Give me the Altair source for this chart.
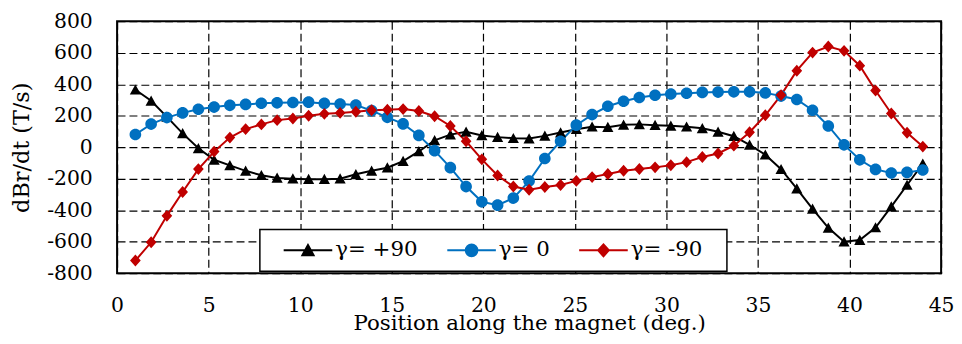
import altair as alt
import pandas as pd

# ---------------- data ----------------
positions = [1.00, 1.86, 2.72, 3.58, 4.44, 5.30, 6.16, 7.02, 7.88, 8.74,
             9.60, 10.46, 11.32, 12.18, 13.04, 13.90, 14.76, 15.62, 16.48, 17.34,
             18.20, 19.06, 19.92, 20.78, 21.64, 22.50, 23.36, 24.22, 25.08, 25.94,
             26.80, 27.66, 28.52, 29.38, 30.24, 31.10, 31.96, 32.82, 33.68, 34.54,
             35.40, 36.26, 37.12, 37.98, 38.84, 39.70, 40.56, 41.42, 42.28, 43.14,
             44.00]

gamma_p90 = [365, 295, 193, 88, -7, -80, -115, -150, -178, -195,
             -200, -203, -203, -200, -172, -150, -130, -88, -27, 43,
             80, 98, 75, 64, 57, 55, 72, 93, 114, 130,
             127, 142, 145, 140, 136, 130, 120, 98, 70, 15,
             -48, -140, -263, -392, -512, -600, -590, -510, -378, -240,
             -105]

gamma_0 = [81, 147, 188, 218, 241, 255, 266, 272, 279, 282,
           284, 286, 278, 274, 268, 232, 190, 148, 75, -22,
           -130, -250, -347, -368, -323, -215, -72, 38, 140, 207,
           260, 292, 316, 330, 338, 343, 348, 350, 352, 352,
           345, 325, 303, 235, 135, 15, -80, -141, -164, -160,
           -145]

gamma_m90 = [-720, -604, -436, -285, -139, -28, 61, 115, 145, 172,
             182, 200, 212, 218, 225, 235, 238, 242, 230, 197,
             135, 38, -77, -180, -250, -270, -253, -240, -214, -190,
             -170, -150, -138, -128, -115, -95, -62, -40, 10, 95,
             203, 331, 486, 601, 640, 612, 518, 360, 214, 92,
             4]

series_names = ["γ= +90", "γ= 0", "γ= -90"]
series_colors = ["#000000", "#0070C0", "#C00000"]

x_ticks = [0, 5, 10, 15, 20, 25, 30, 35, 40, 45]
y_ticks = [-800, -600, -400, -200, 0, 200, 400, 600, 800]

x_title = "Position along the magnet (deg.)"
y_title = "dBr/dt (T/s)"

# ---------------- table ----------------
rows = []
for s, (name, vals) in enumerate(zip(series_names, [gamma_p90, gamma_0, gamma_m90])):
    for k, (p, v) in enumerate(zip(positions, vals)):
        rows.append({"pos": p, "val": v, "series": name, "line_id": s, "idx": k})
df = pd.DataFrame(rows)

FONT = "DejaVu Serif"

# marker shapes (with an unfilled horizontal segment that is stroked only in the legend)
tri = "M-1,0H1M0,-0.22L0.23,0.2L-0.23,0.2Z"
cir = "M-1,0H1M0.24,0A0.24,0.24,0,1,1,-0.24,0A0.24,0.24,0,1,1,0.24,0Z"
dia = "M-1,0H1M0,-0.245L0.22,0L0,0.245L-0.22,0Z"

x_enc = alt.X(
    "pos:Q",
    scale=alt.Scale(domain=[0, 45], nice=False, zero=False),
    axis=alt.Axis(
        values=x_ticks, title=x_title, grid=True, domain=False, ticks=False,
        labelFont=FONT, labelFontSize=20.5, labelColor="black", labelPadding=23,
        labelFlush=False, labelOverlap=False,
        titleFont=FONT, titleFontSize=21.5, titleFontWeight="normal", titleColor="black",
        titleBaseline="alphabetic", titleY=57, titleX=415.5,
    ),
)
y_enc = alt.Y(
    "val:Q",
    scale=alt.Scale(domain=[-800, 800], nice=False, zero=False),
    axis=alt.Axis(
        values=y_ticks, title=y_title, grid=True, domain=False, ticks=False,
        labelFont=FONT, labelFontSize=20.5, labelColor="black", labelPadding=25,
        labelExpr="'' + datum.value", labelFlush=False, labelOverlap=False,
        titleFont=FONT, titleFontSize=22.5, titleFontWeight="normal", titleColor="black",
        titleAngle=270, titleBaseline="alphabetic", titleX=-89.5, titleY=127,
    ),
)

leg = alt.Legend(
    title=" ", titleOrient="right", titlePadding=15, titleFontSize=20,
    orient="none", legendX=144, legendY=210, direction="horizontal",
    fillColor="white", strokeColor="black", padding=10, clipHeight=22,
    symbolSize=2400, symbolStrokeWidth=2, symbolOpacity=1, symbolOffset=13,
    labelFont=FONT, labelFontSize=21.5, labelColor="black", labelOffset=2,
    columnPadding=15,
)

lines = alt.Chart(df).mark_line(strokeWidth=2).encode(
    x=x_enc,
    y=y_enc,
    color=alt.Color("line_id:N", scale=alt.Scale(domain=[0, 1, 2], range=series_colors), legend=None),
    order="idx:Q",
)

points = alt.Chart(df).mark_point(filled=True, opacity=1, size=2400).encode(
    x=x_enc,
    y=y_enc,
    fill=alt.Fill("series:N", scale=alt.Scale(domain=series_names, range=series_colors), legend=leg),
    stroke=alt.Stroke("series:N", scale=alt.Scale(domain=series_names, range=series_colors), legend=leg),
    shape=alt.Shape("series:N", scale=alt.Scale(domain=series_names, range=[tri, cir, dia]), legend=leg),
    strokeWidth=alt.value(0),
)

chart = (
    alt.layer(lines, points)
    .properties(
        width=831, height=254,
        padding={"left": 110, "top": 12, "right": 13, "bottom": 62},
        autosize=alt.AutoSizeParams(type="none"),
    )
    .configure_view(stroke="black", strokeWidth=2)
    .configure_axis(gridColor="black", gridDash=[8, 4], gridWidth=1.2, gridOpacity=1)
    .configure_legend(strokeWidth=1.5)
)

chart.save("out.html", embed_options={"renderer": "svg", "actions": False})
